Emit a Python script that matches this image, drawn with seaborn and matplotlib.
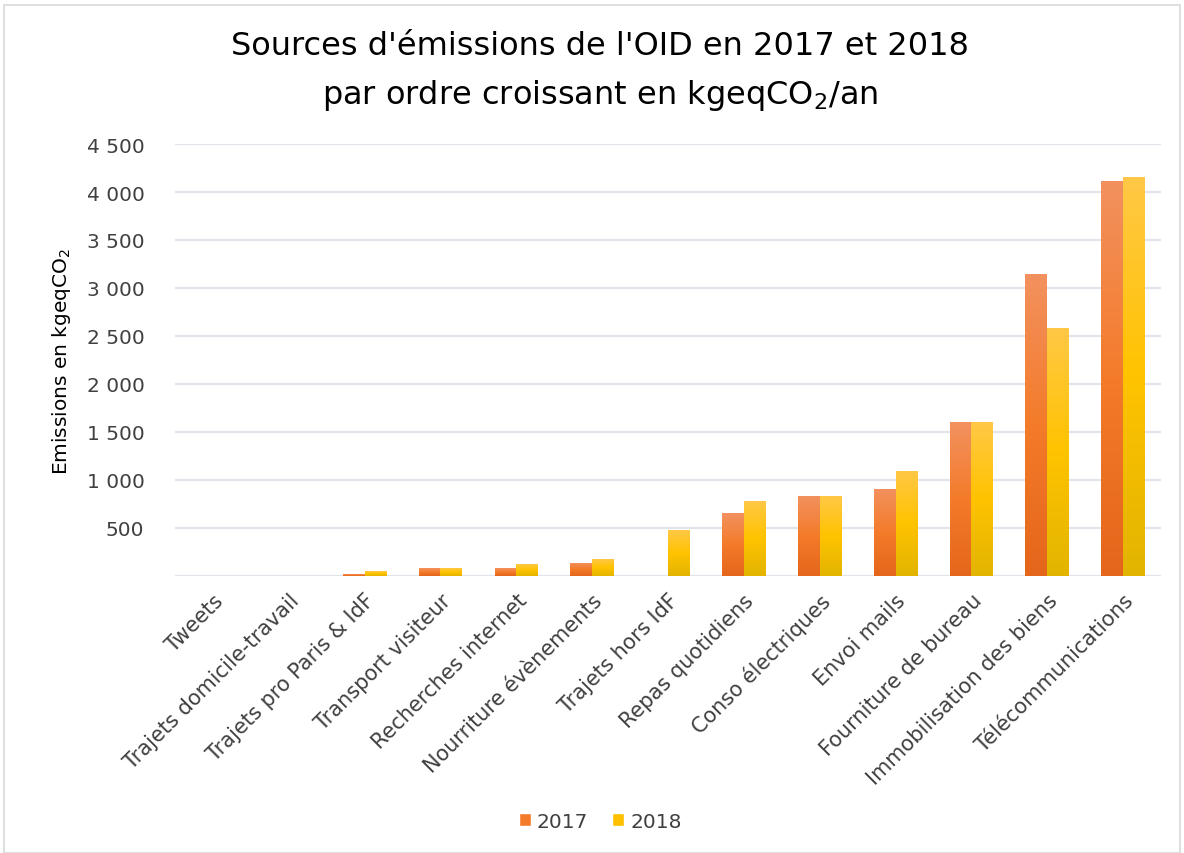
import numpy as np
import matplotlib
matplotlib.use("Agg")
import matplotlib.pyplot as plt
from matplotlib.colors import LinearSegmentedColormap
from matplotlib.patches import Patch, Rectangle
import pandas as pd
import seaborn as sns

# donnees (kgeqCO2/an)
categories = ["Tweets", "Trajets domicile-travail", "Trajets pro Paris & IdF",
              "Transport visiteur", "Recherches internet", "Nourriture évènements",
              "Trajets hors IdF", "Repas quotidiens", "Conso électriques",
              "Envoi mails", "Fourniture de bureau", "Immobilisation des biens",
              "Télécommunications"]
em_2017 = [0, 0, 17, 83, 83, 139, 0, 655, 828, 908, 1600, 3142, 4115]
em_2018 = [0, 0, 52, 83, 121, 173, 478, 776, 828, 1095, 1600, 2581, 4156]
years = ["2017", "2018"]
y_ticks = [500, 1000, 1500, 2000, 2500, 3000, 3500, 4000, 4500]

df = pd.DataFrame({
    "source": categories * 2,
    "annee": [years[0]] * len(categories) + [years[1]] * len(categories),
    "valeur": em_2017 + em_2018,
})

sns.set_style("white")
plt.rcParams["font.family"] = ["DejaVu Sans"]

mid_cols = {"2017": "#F47B2A", "2018": "#FFC000"}
grads = {
    "2017": ["#F2915F", "#F47B2A", "#E4661B"],
    "2018": ["#FFC846", "#FFC300", "#E2B400"],
}

fig = plt.figure(figsize=(11.84, 8.54), dpi=100)
ax = fig.add_axes([0.1478, 0.3244, 0.8328, 0.5058])

sns.barplot(data=df, x="source", y="valeur", hue="annee", hue_order=years,
            palette=mid_cols, width=0.575, gap=0, ax=ax, legend=False,
            edgecolor="none", saturation=1)

# degrade vertical sur chaque barre
grad_img = np.linspace(1, 0, 256).reshape(-1, 1)
bar_patches = [p for p in ax.patches if isinstance(p, Rectangle)]
for i, p in enumerate(bar_patches):
    yr = years[i // len(categories)]
    h = p.get_height()
    if h <= 0:
        continue
    cmap = LinearSegmentedColormap.from_list(yr, grads[yr][::-1])
    x0 = p.get_x()
    im = ax.imshow(grad_img, cmap=cmap, aspect="auto", vmin=0, vmax=1,
                   extent=(x0, x0 + p.get_width(), 0, h), zorder=2)
    im.set_clip_path(p)

ax.set_xlim(-0.5, len(categories) - 0.5)
ax.set_ylim(0, 4500)
ax.set_yticks(y_ticks)
ax.set_yticklabels([f"{v:,}".replace(",", " ") for v in y_ticks],
                   fontsize=14.5, color="#404040")
ax.yaxis.grid(True, color="#E1E4EA", linewidth=1.6)
ax.axhline(0, color="#E1E4EA", linewidth=1.6, zorder=1)
ax.set_axisbelow(True)
ax.tick_params(axis="y", length=0, pad=22)
ax.tick_params(axis="x", length=0, pad=10)
for s in ax.spines.values():
    s.set_visible(False)

ax.set_xticks(range(len(categories)))
ax.set_xticklabels(categories, rotation=45, ha="right", rotation_mode="anchor",
                   fontsize=15, color="#404040")
ax.set_xlabel("")
ax.set_ylabel("Emissions en kgeqCO$_2$", fontsize=14.5, color="black", labelpad=10)

fig.text(0.507, 0.945, "Sources d'émissions de l'OID en 2017 et 2018",
         ha="center", va="center", fontsize=23, color="black")
fig.text(0.507, 0.888, "par ordre croissant en kgeqCO$_2$/an",
         ha="center", va="center", fontsize=23, color="black")

handles = [Patch(facecolor=mid_cols[y], label=y) for y in years]
fig.legend(handles=handles, loc="center", bbox_to_anchor=(0.507, 0.037), ncol=2,
           frameon=False, fontsize=14.5, handlelength=0.6, handleheight=0.6,
           handletextpad=0.3, columnspacing=1.2, labelcolor="#404040")

# cadre du graphique
fig.patches.append(Rectangle((0.003, 0.0), 0.994, 0.993, transform=fig.transFigure,
                             fill=False, edgecolor="#D9D9D9", linewidth=1.2))

fig.savefig("out.png", dpi=100)
